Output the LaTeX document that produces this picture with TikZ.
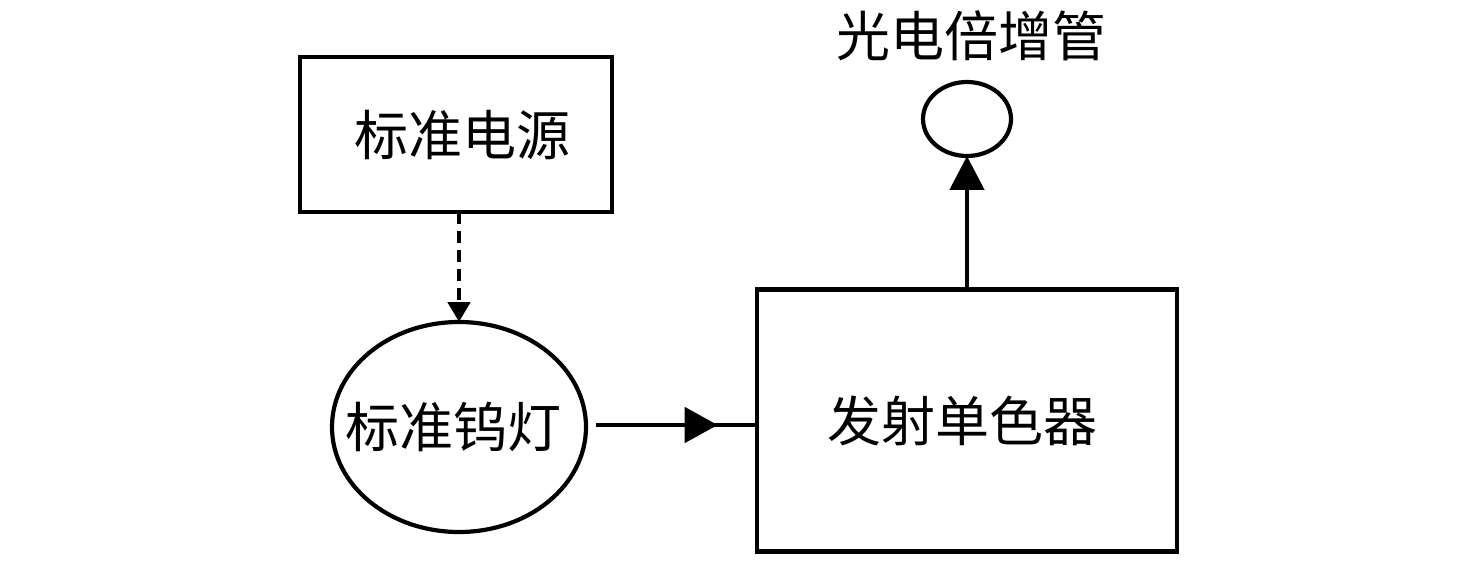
\documentclass[tikz,border=0pt]{standalone}
\usepackage{fontspec}
\newfontfamily\cjk{Noto Sans CJK SC}
\usetikzlibrary{arrows.meta,shapes.geometric,decorations.markings}
\begin{document}
\begin{tikzpicture}[x=0.5pt,y=-0.5pt,
  every node/.style={font=\cjk\fontsize{27}{31}\selectfont, inner sep=0pt, outer sep=0pt},
  boxstyle/.style={draw, line width=2.4pt, rectangle},
  ovalstyle/.style={draw, line width=2.1pt, ellipse},
  conn/.style={line width=2.4pt},
]
\useasboundingbox (0,0) rectangle (1476,561);
\node[boxstyle, minimum width=156pt, minimum height=77.5pt] (src) at (456,134.5) {\hspace*{6pt}标准电源};
\node[ovalstyle, minimum width=127pt, minimum height=105pt] (lamp) at (459,427) {};
\node (lamptxt) at (453,427) {标准钨灯};
\node[boxstyle, minimum width=210pt, minimum height=131pt] (mono) at (967,420.5) {发射单色器\hspace*{5pt}};
\node[ovalstyle, minimum width=44pt, minimum height=37pt] (pmt) at (967,119) {};
\node (lbl) at (971,36) {光电倍增管};
\draw[conn, dash pattern=on 6pt off 3.5pt, -{Triangle[length=10pt,width=11pt]}]
  (lamp.north |- src.south) -- (lamp.north);
\draw[conn, shorten <=5pt, postaction={decorate},
  decoration={markings, mark=at position 0.77 with {\arrow{Triangle[length=16.5pt,width=17.5pt]}}}]
  ([yshift=1pt]lamp.east) -- ([yshift=1pt]lamp.east -| mono.west);
\draw[conn, -{Triangle[length=17pt,width=17pt]}] (mono.north) -- (pmt.south);
\end{tikzpicture}
\end{document}
